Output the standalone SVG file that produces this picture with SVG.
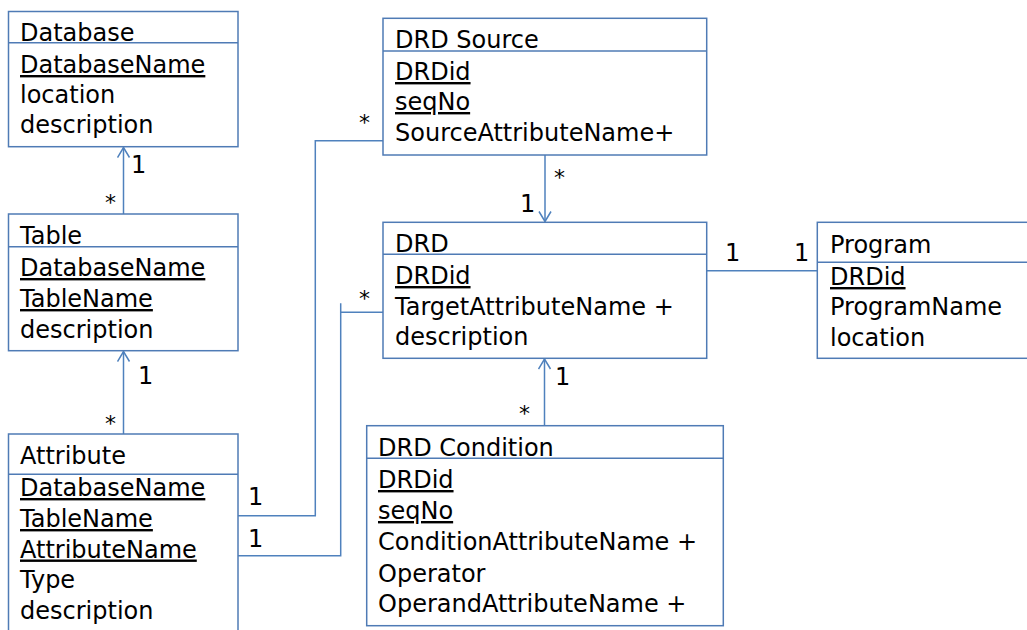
<svg xmlns="http://www.w3.org/2000/svg" width="1027" height="630" viewBox="0 0 1027 630">
<style>
.box{fill:#fff;stroke:#4f7bb5;stroke-width:1.5}
.div{stroke:#4f7bb5;stroke-width:1.5}
.t{font-family:"DejaVu Sans",Verdana,sans-serif;font-size:24px;fill:#000}
.u{text-decoration:underline;text-decoration-thickness:2px}
.lbl{font-family:"DejaVu Sans",Verdana,sans-serif;font-size:24px;fill:#000}
.star{font-family:"DejaVu Sans",Verdana,sans-serif;font-size:22px;fill:#000}
.c{fill:none;stroke:#4f81bd;stroke-width:1.5}
</style>
<defs>
<marker id="open" viewBox="0 0 12 14" refX="11" refY="7" markerWidth="12" markerHeight="14" markerUnits="userSpaceOnUse" orient="auto">
<path d="M1 1 L11 7 L1 13" fill="none" stroke="#4f81bd" stroke-width="1.5"/>
</marker>
</defs>
<g id="connectors">
<line class="c" x1="123.5" y1="214" x2="123.5" y2="147.5" marker-end="url(#open)"/>
<line class="c" x1="123.5" y1="434" x2="123.5" y2="351.5" marker-end="url(#open)"/>
<polyline class="c" points="238,515.7 315.3,515.7 315.3,140.7 383,140.7"/>
<polyline class="c" points="238,555.7 340.7,555.7 340.7,303.3"/>
<line class="c" x1="340.7" y1="312.3" x2="383" y2="312.3"/>
<line class="c" x1="545" y1="155" x2="545" y2="221.5" marker-end="url(#open)"/>
<line class="c" x1="706.7" y1="270.7" x2="817.3" y2="270.7"/>
<line class="c" x1="544.5" y1="425.7" x2="544.5" y2="359" marker-end="url(#open)"/>
<text class="lbl" x="131" y="173">1</text>
<text class="star" x="105" y="210">*</text>
<text class="lbl" x="138" y="384">1</text>
<text class="star" x="105" y="431">*</text>
<text class="lbl" x="248" y="505">1</text>
<text class="lbl" x="248" y="547">1</text>
<text class="star" x="359" y="130">*</text>
<text class="star" x="359" y="306">*</text>
<text class="star" x="554" y="185">*</text>
<text class="lbl" x="520" y="212">1</text>
<text class="lbl" x="725" y="261">1</text>
<text class="lbl" x="794" y="261">1</text>
<text class="lbl" x="555" y="385">1</text>
<text class="star" x="519" y="421">*</text>
</g>
<g id="database">
<rect class="box" x="8.5" y="11.5" width="229.5" height="135.2"/>
<line class="div" x1="8.5" y1="42.7" x2="238" y2="42.7"/>
<text class="t" x="20" y="41">Database</text>
<text class="t u" x="20" y="73">DatabaseName</text>
<text class="t" x="20" y="103">location</text>
<text class="t" x="20" y="133">description</text>
</g>
<g id="table">
<rect class="box" x="8.5" y="214" width="229.5" height="136.7"/>
<line class="div" x1="8.5" y1="246.7" x2="238" y2="246.7"/>
<text class="t" x="20" y="244">Table</text>
<text class="t u" x="20" y="276">DatabaseName</text>
<text class="t u" x="20" y="307">TableName</text>
<text class="t" x="20" y="337.5">description</text>
</g>
<g id="attribute">
<rect class="box" x="8.5" y="434" width="229.5" height="210"/>
<line class="div" x1="8.5" y1="474.3" x2="238" y2="474.3"/>
<text class="t" x="20" y="464">Attribute</text>
<text class="t u" x="20" y="496">DatabaseName</text>
<text class="t u" x="20" y="527">TableName</text>
<text class="t u" x="20" y="557.5">AttributeName</text>
<text class="t" x="20" y="588">Type</text>
<text class="t" x="20" y="619">description</text>
</g>
<g id="drd-source">
<rect class="box" x="383" y="18.3" width="323.7" height="136.7"/>
<line class="div" x1="383" y1="51" x2="706.7" y2="51"/>
<text class="t" x="395" y="47.5">DRD Source</text>
<text class="t u" x="395" y="80">DRDid</text>
<text class="t u" x="395" y="110">seqNo</text>
<text class="t" x="395" y="140.5">SourceAttributeName+</text>
</g>
<g id="drd">
<rect class="box" x="383" y="222.3" width="323.7" height="136"/>
<line class="div" x1="383" y1="254.3" x2="706.7" y2="254.3"/>
<text class="t" x="395" y="251.5">DRD</text>
<text class="t u" x="395" y="284">DRDid</text>
<text class="t" x="395" y="315">TargetAttributeName +</text>
<text class="t" x="395" y="345">description</text>
</g>
<g id="program">
<rect class="box" x="817.3" y="222.3" width="230" height="136"/>
<line class="div" x1="817.3" y1="262.3" x2="1040" y2="262.3"/>
<text class="t" x="830" y="252.5">Program</text>
<text class="t u" x="830" y="285">DRDid</text>
<text class="t" x="830" y="315">ProgramName</text>
<text class="t" x="830" y="346">location</text>
</g>
<g id="drd-condition">
<rect class="box" x="366.7" y="425.7" width="356.6" height="200"/>
<line class="div" x1="366.7" y1="458.3" x2="723.3" y2="458.3"/>
<text class="t" x="378" y="456">DRD Condition</text>
<text class="t u" x="378" y="488">DRDid</text>
<text class="t u" x="378" y="519">seqNo</text>
<text class="t" x="378" y="550">ConditionAttributeName +</text>
<text class="t" x="378" y="581.5">Operator</text>
<text class="t" x="378" y="611.5">OperandAttributeName +</text>
</g>
</svg>
